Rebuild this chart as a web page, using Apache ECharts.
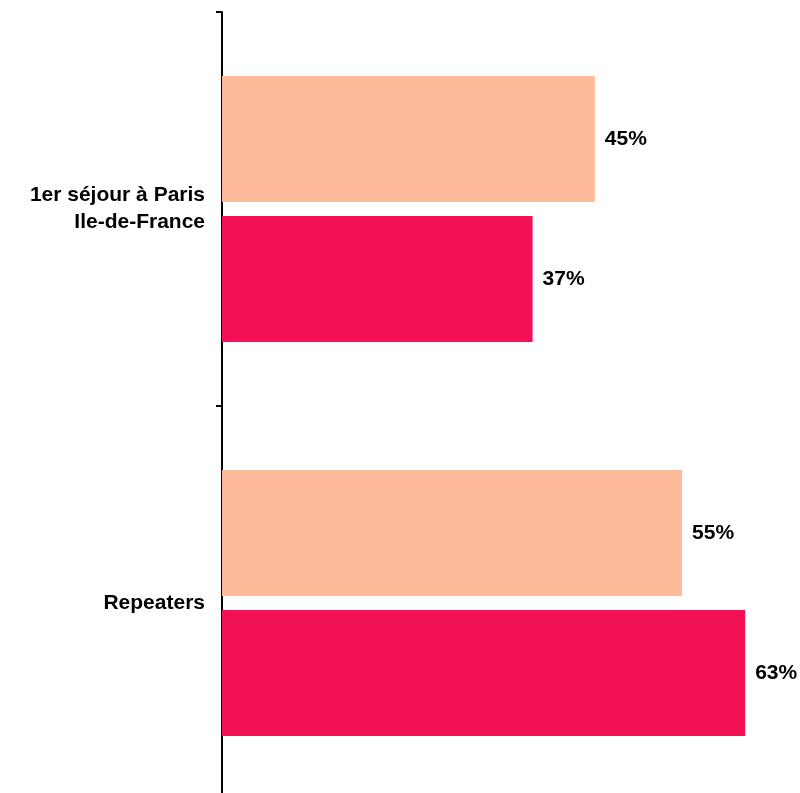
<!DOCTYPE html>
<html>
<head>
<meta charset="utf-8">
<script src="https://cdn.jsdelivr.net/npm/echarts@6/dist/echarts.min.js"></script>
<style>html,body{margin:0;padding:0;background:#fff;}#c{width:800px;height:793px;}</style>
</head>
<body>
<div id="c"></div>
<script>
const categories = ['1er séjour à Paris\nIle-de-France', 'Repeaters'];
const seriesA = [44.9, 55.4];
const seriesB = [37.4, 63.0];
const colorA = '#FFBB99';
const colorB = '#F21155';

const chart = echarts.init(document.getElementById('c'));
const labelCfg = {
  show: true,
  position: 'right',
  distance: 10,
  color: '#000',
  fontFamily: 'Liberation Sans, Arial, sans-serif',
  fontWeight: 'bold',
  fontSize: 21,
  formatter: p => Math.round(p.value) + '%'
};
chart.setOption({
  animation: false,
  grid: { left: 222, top: 12, width: 573, height: 788, outerBoundsMode: 'none', containLabel: false },
  xAxis: { type: 'value', min: 0, max: 69, show: false },
  yAxis: {
    type: 'category',
    data: categories,
    inverse: true,
    axisLine: { show: true, lineStyle: { color: '#000', width: 2 } },
    axisTick: { show: true, length: 6, lineStyle: { color: '#000', width: 2 } },
    axisLabel: {
      color: '#000',
      fontFamily: 'Liberation Sans, Arial, sans-serif',
      fontWeight: 'bold',
      fontSize: 21,
      lineHeight: 27,
      margin: 17,
      align: 'right'
    }
  },
  series: [
    { type: 'bar', data: seriesA, itemStyle: { color: colorA }, barGap: '11%', barCategoryGap: '32.5%', label: labelCfg },
    { type: 'bar', data: seriesB, itemStyle: { color: colorB }, barGap: '11%', barCategoryGap: '32.5%', label: labelCfg }
  ]
});
</script>
</body>
</html>
